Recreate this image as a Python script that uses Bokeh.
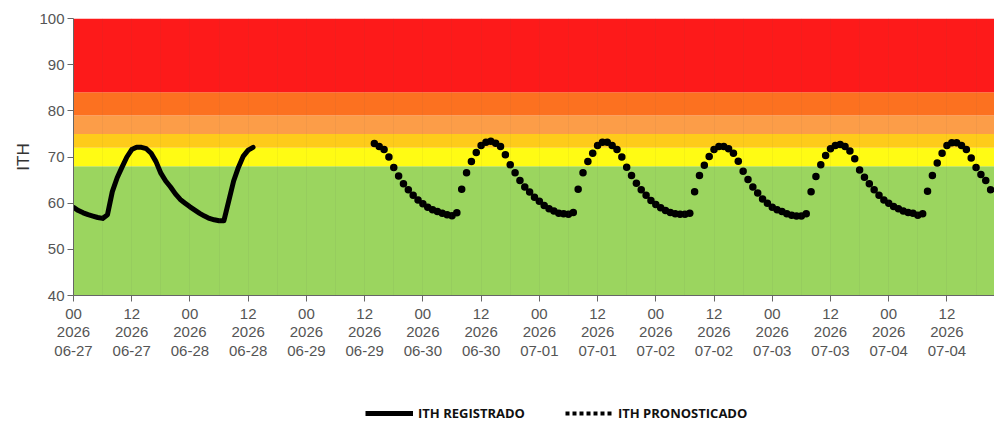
from datetime import datetime, timedelta
from bokeh.plotting import figure
from bokeh.layouts import column
from bokeh.models import (Range1d, FixedTicker, DatetimeTickFormatter, Legend,
                          LegendItem, ColumnDataSource)
from bokeh.embed import file_html
from bokeh.resources import INLINE

# ---------------- data ----------------
reg_start = datetime(2026, 6, 27, 0)
reg_ith = [59.1, 58.4, 57.9, 57.5, 57.2, 56.9, 56.7, 57.5, 62.5, 65.5, 67.8, 70.0,
           71.6, 72.1, 72.1, 71.8, 70.8, 69.0, 66.5, 64.8, 63.5, 62.0, 60.8, 60.0,
           59.2, 58.5, 57.8, 57.2, 56.7, 56.4, 56.2, 56.2, 60.5, 64.8, 67.8, 70.2,
           71.5, 72.1]

fc_start = datetime(2026, 6, 29, 14)
fc_ith = [
    # 06-29 14h..23h
    72.9, 72.3, 71.6, 70.0, 67.7, 65.9, 64.2, 62.9, 61.7, 60.7,
    # 06-30
    59.9, 59.1, 58.6, 58.2, 57.8, 57.5, 57.3, 57.9, 63.0, 66.6, 69.0, 71.0,
    72.5, 73.2, 73.4, 73.0, 72.3, 70.5, 68.3, 66.6, 64.9, 63.5, 62.4, 61.3,
    # 07-01
    60.4, 59.5, 58.8, 58.3, 57.8, 57.7, 57.6, 58.0, 63.0, 66.6, 69.0, 70.8,
    72.5, 73.2, 73.2, 72.5, 71.6, 70.0, 67.8, 66.0, 64.3, 62.9, 61.7, 60.6,
    # 07-02
    59.7, 59.0, 58.4, 58.0, 57.7, 57.6, 57.6, 57.8, 62.5, 66.0, 68.2, 70.1,
    71.6, 72.3, 72.3, 71.8, 70.8, 69.1, 66.9, 65.1, 63.5, 62.2, 60.9, 60.0,
    # 07-03
    59.1, 58.6, 58.2, 57.7, 57.4, 57.2, 57.2, 57.7, 62.5, 65.8, 68.3, 70.3,
    71.8, 72.5, 72.7, 72.3, 71.3, 69.6, 67.2, 65.6, 64.2, 62.9, 61.7, 60.7,
    # 07-04 00h..21h
    60.0, 59.3, 58.8, 58.3, 58.0, 57.8, 57.4, 57.7, 62.6, 66.0, 68.7, 70.8,
    72.5, 73.1, 73.1, 72.5, 71.6, 69.8, 67.7, 66.2, 64.9, 62.9,
]

band_lo = [40, 68, 72, 75, 79, 84]
band_hi = [68, 72, 75, 79, 84, 100]
band_colors = ["#9bd55f", "#fffb14", "#fecb1a", "#fc9d48", "#fc7120", "#fd1a1a"]

y_ticks = [40, 50, 60, 70, 80, 90, 100]
x_tick_step_h = 12
n_x_ticks = 16
legend_labels = ["ITH REGISTRADO", "ITH PRONOSTICADO"]
y_label = "ITH"

# ---------------- derived ----------------
reg_times = [reg_start + timedelta(hours=i) for i in range(len(reg_ith))]
fc_times = [fc_start + timedelta(hours=i) for i in range(len(fc_ith))]
x_start = reg_start
x_end = reg_start + timedelta(hours=189.8)

def ms(d):
    return (d - datetime(1970, 1, 1)).total_seconds() * 1000.0

W = 994
p = figure(width=W, height=365, x_axis_type="datetime",
           x_range=Range1d(x_start, x_end), y_range=Range1d(40, 100),
           output_backend="svg", toolbar_location=None,
           min_border_left=73, min_border_top=18, min_border_right=0,
           min_border_bottom=70)
p.outline_line_color = None
p.background_fill_color = "white"

band_src = ColumnDataSource(dict(
    left=[x_start] * len(band_lo), right=[x_end] * len(band_lo),
    bottom=band_lo, top=band_hi, color=band_colors))
p.quad(left="left", right="right", bottom="bottom", top="top",
       fill_color="color", line_color=None, source=band_src)

p.line(reg_times, reg_ith, line_color="black", line_width=5,
       line_join="round", line_cap="round")
p.scatter(fc_times, fc_ith, size=7.5, fill_color="black", line_color=None)

# axes
x_ticks = [ms(reg_start + timedelta(hours=x_tick_step_h * i)) for i in range(n_x_ticks)]
p.xaxis.ticker = FixedTicker(ticks=x_ticks)
fmt = "%H\n%Y\n%m-%d"
p.xaxis.formatter = DatetimeTickFormatter(hours=fmt, days=fmt, months=fmt,
                                          years=fmt, minutes=fmt, hourmin=fmt)
p.yaxis.ticker = FixedTicker(ticks=y_ticks)
for ax in (p.xaxis, p.yaxis):
    ax.axis_line_color = "#666666"
    ax.major_tick_line_color = "#666666"
    ax.major_tick_out = 6
    ax.major_tick_in = 0
    ax.minor_tick_line_color = None
    ax.major_label_text_font = "Liberation Sans"
    ax.major_label_text_font_size = "15px"
    ax.major_label_text_color = "#555555"
    ax.major_label_standoff = 3
p.xaxis.major_label_text_line_height = 1.1
p.yaxis.axis_label = y_label
p.yaxis.axis_label_text_font = "Liberation Sans"
p.yaxis.axis_label_text_font_size = "17px"
p.yaxis.axis_label_text_font_style = "normal"
p.yaxis.axis_label_text_color = "#333333"
p.yaxis.axis_label_standoff = 3

p.ygrid.grid_line_color = None
p.xgrid.ticker = FixedTicker(ticks=[ms(reg_start + timedelta(hours=6 * i)) for i in range(32)])
p.xgrid.grid_line_color = "#555555"
p.xgrid.grid_line_alpha = 0.06
p.xgrid.level = "annotation"

# legend strip below the chart (its renderers sit outside its visible ranges)
lg = figure(width=W, height=58, x_range=Range1d(0, 1), y_range=Range1d(0, 1),
            output_backend="svg", toolbar_location=None,
            x_axis_location=None, y_axis_location=None,
            min_border=0, min_border_left=0, min_border_right=0,
            min_border_top=0, min_border_bottom=0)
lg.outline_line_color = None
lg.xgrid.visible = False
lg.ygrid.visible = False
r_reg = lg.line(reg_times, reg_ith, line_color="black", line_width=5)
r_fc = lg.line(fc_times, fc_ith, line_color="black", line_width=4, line_dash="4 3")

legend = Legend(items=[LegendItem(label=legend_labels[0], renderers=[r_reg]),
                       LegendItem(label=legend_labels[1], renderers=[r_fc])],
                orientation="horizontal", location=(292, 1),
                glyph_width=48, glyph_height=14, label_height=14,
                label_standoff=5, spacing=40,
                padding=0, margin=0, border_line_color=None,
                background_fill_alpha=0,
                label_text_font="Open Sans", label_text_font_style="bold",
                label_text_font_size="13px", label_text_color="#111111")
lg.add_layout(legend, "center")

layout = column(p, lg, spacing=0)
open("out.html", "w").write(file_html(layout, INLINE))
